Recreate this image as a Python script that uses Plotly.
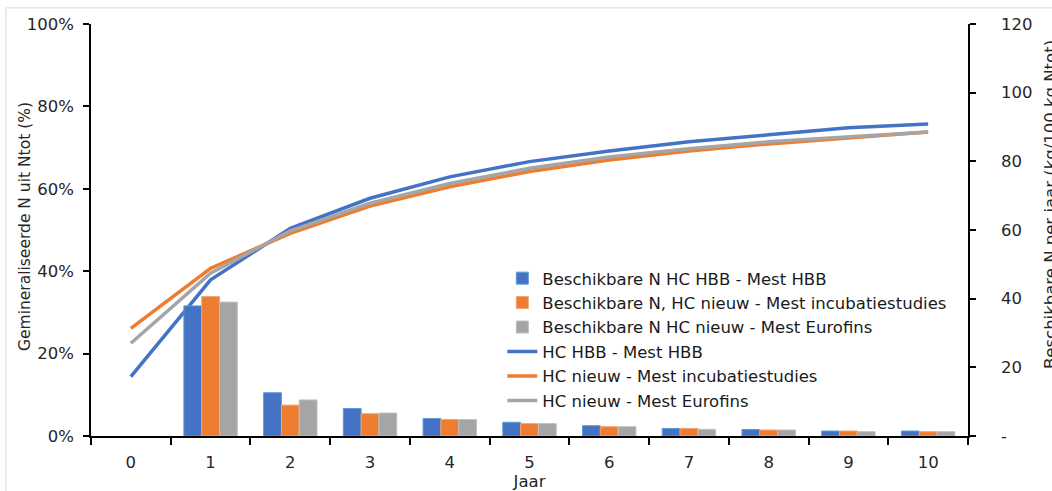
import plotly.graph_objects as go

# Years on the category axis
years = ["0", "1", "2", "3", "4", "5", "6", "7", "8", "9", "10"]

# Available N per year (kg/100 kg Ntot), right axis
bar_hbb = [None, 37.9, 12.6, 8.0, 5.1, 4.0, 3.0, 2.2, 1.9, 1.45, 1.45]
bar_incub = [None, 40.6, 9.0, 6.5, 4.8, 3.6, 2.7, 2.2, 1.75, 1.45, 1.25]
bar_eurofins = [None, 39.0, 10.5, 6.7, 4.8, 3.6, 2.7, 1.95, 1.75, 1.25, 1.25]

# Cumulative mineralised N as fraction of Ntot, left axis
line_hbb = [0.144, 0.379, 0.504, 0.577, 0.629, 0.666, 0.692, 0.714, 0.731, 0.748, 0.757]
line_incub = [0.261, 0.407, 0.492, 0.558, 0.605, 0.642, 0.670, 0.692, 0.709, 0.723, 0.738]
line_eurofins = [0.225, 0.395, 0.498, 0.565, 0.613, 0.650, 0.677, 0.697, 0.714, 0.726, 0.738]

right_ticks = [0, 20, 40, 60, 80, 100, 120]
right_ticktext = ["-", "20", "40", "60", "80", "100", "120"]

BLUE = "#4472C4"
ORANGE = "#ED7D31"
GRAY = "#A5A5A5"
FONT = "DejaVu Sans"
TXT = "#262626"
FS = 16.5

fig = go.Figure()

bars = [
    ("Beschikbare N HC HBB - Mest HBB", bar_hbb, BLUE, "#5B9BD5"),
    ("Beschikbare N, HC nieuw - Mest incubatiestudies", bar_incub, ORANGE, "#F4A46E"),
    ("Beschikbare N HC nieuw - Mest Eurofins", bar_eurofins, GRAY, "#C0C0C0"),
]
for name, vals, col, edge in bars:
    fig.add_trace(go.Bar(
        x=years, y=vals, name=name, yaxis="y2",
        marker=dict(color=col, line=dict(color=edge, width=1)),
    ))

lines = [
    ("HC HBB - Mest HBB", line_hbb, BLUE),
    ("HC nieuw - Mest incubatiestudies", line_incub, ORANGE),
    ("HC nieuw - Mest Eurofins", line_eurofins, GRAY),
]
for name, vals, col in lines:
    fig.add_trace(go.Scatter(
        x=years, y=vals, name=name, mode="lines", yaxis="y",
        line=dict(color=col, width=3.5),
    ))

fig.update_layout(
    width=1052, height=491,
    margin=dict(l=91, r=84, t=24, b=55, autoexpand=False),
    paper_bgcolor="white", plot_bgcolor="white",
    font=dict(family=FONT, size=FS, color=TXT),
    barmode="group", bargap=0.33, bargroupgap=0,
    showlegend=True,
    legend=dict(
        x=0.469, y=0.425, xanchor="left", yanchor="top",
        bgcolor="rgba(255,255,255,0)", font=dict(size=FS, color="#1a1a1a"),
        tracegroupgap=0, itemwidth=30,
    ),
    xaxis=dict(
        type="category", tickson="boundaries", ticks="outside", ticklen=7,
        tickcolor="black", tickwidth=1.5, automargin=False,
        showline=True, linecolor="black", linewidth=1.5,
        showgrid=False, zeroline=False,
        tickfont=dict(size=FS), ticklabelstandoff=10,
        title=dict(text="Jaar", font=dict(size=FS), standoff=0),
    ),
    yaxis=dict(
        range=[0, 1], dtick=0.2, tickformat=".0%",
        ticks="outside", ticklen=6, tickcolor="black", tickwidth=1.5,
        showline=True, linecolor="black", linewidth=1.5, automargin=False,
        showgrid=False, zeroline=False, tickfont=dict(size=FS),
        ticklabelstandoff=6,
    ),
    yaxis2=dict(
        range=[0, 120], overlaying="y", side="right",
        tickvals=right_ticks, ticktext=right_ticktext,
        ticks="outside", ticklen=6, tickcolor="black", tickwidth=1.5,
        showline=True, linecolor="black", linewidth=1.5, automargin=False,
        showgrid=False, zeroline=False, tickfont=dict(size=FS),
        ticklabelstandoff=22,
    ),
)

# Left axis title
fig.add_annotation(
    text="Gemineraliseerde N uit Ntot (%)",
    xref="paper", yref="paper", x=0.0, xshift=-66, y=0.5, yshift=3,
    xanchor="center", yanchor="middle", textangle=-90,
    showarrow=False, font=dict(size=15.5, color=TXT),
)

# Right axis title, running off the edge of the frame
fig.add_annotation(
    text="Beschikbare N per jaar (kg/100 kg Ntot)",
    xref="paper", yref="paper", x=1.0, xshift=82, y=0.5, yshift=25,
    xanchor="center", yanchor="middle", textangle=-90,
    showarrow=False, font=dict(size=FS, color=TXT),
)

# Light chart frame
fig.add_shape(
    type="rect", xref="paper", yref="paper",
    x0=-0.097, x1=1.1, y0=-0.3, y1=1.039,
    line=dict(color="#D9D9D9", width=1), fillcolor="rgba(0,0,0,0)", layer="below",
)

fig.write_html("out.html")
